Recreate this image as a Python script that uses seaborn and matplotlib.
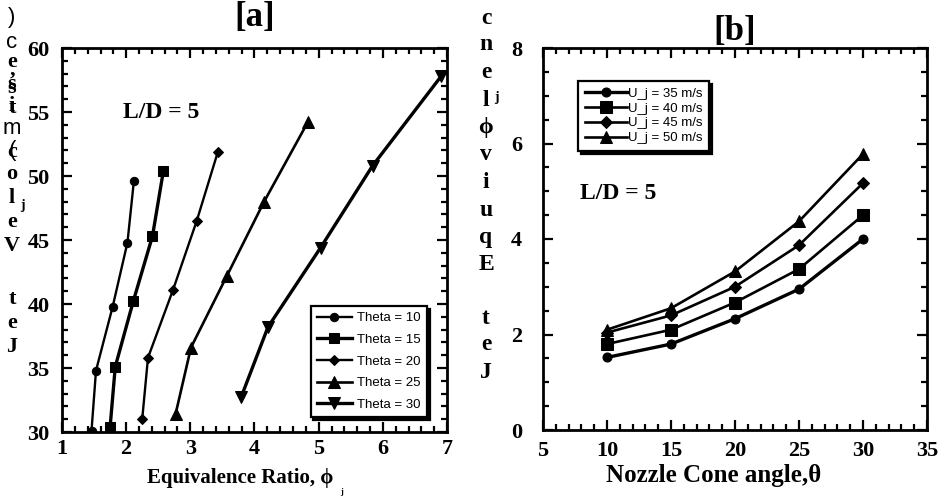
import numpy as np
import pandas as pd
import matplotlib
matplotlib.use("Agg")
import matplotlib.pyplot as plt
import seaborn as sns
from matplotlib.ticker import MultipleLocator

# ---------------- data: panel [a] ----------------
theta_labels = ["Theta = 10", "Theta = 15", "Theta = 20", "Theta = 25", "Theta = 30"]
phi_t10 = [1.46, 1.53, 1.79, 2.02, 2.12]
vel_t10 = [30.1, 34.8, 39.8, 44.8, 49.6]
phi_t15 = [1.75, 1.83, 2.11, 2.41, 2.58]
vel_t15 = [30.4, 35.1, 40.2, 45.3, 50.4]
phi_t20 = [2.25, 2.34, 2.73, 3.10, 3.43]
vel_t20 = [31.0, 35.8, 41.1, 46.5, 51.9]
phi_t25 = [2.77, 3.01, 3.57, 4.15, 4.83]
vel_t25 = [31.4, 36.6, 42.2, 48.0, 54.2]
phi_t30 = [3.79, 4.21, 5.03, 5.84, 6.91]
vel_t30 = [32.7, 38.2, 44.4, 50.8, 57.8]

# ---------------- data: panel [b] ----------------
uj_labels = ["U_j = 35 m/s", "U_j = 40 m/s", "U_j = 45 m/s", "U_j = 50 m/s"]
cone_angle = [10, 15, 20, 25, 30]
eq_u35 = [1.52, 1.80, 2.33, 2.95, 4.00]
eq_u40 = [1.80, 2.10, 2.67, 3.37, 4.50]
eq_u45 = [2.04, 2.40, 3.00, 3.87, 5.17]
eq_u50 = [2.10, 2.55, 3.32, 4.37, 5.78]

SERIF = ["Liberation Serif", "DejaVu Serif"]
SANS = ["Liberation Sans", "DejaVu Sans"]

plt.rcParams["font.family"] = SERIF

W, H = 939, 496
fig = plt.figure(figsize=(W / 100, H / 100), dpi=100)


def px_axes(x0, y0, x1, y1):
    return fig.add_axes([x0 / W, 1 - y1 / H, (x1 - x0) / W, (y1 - y0) / H])


axa = px_axes(62, 48, 447, 432)
axb = px_axes(543, 48, 927, 430)

# ---- panel a lines ----
dfa = []
for lab, xs, ys in zip(theta_labels,
                       [phi_t10, phi_t15, phi_t20, phi_t25, phi_t30],
                       [vel_t10, vel_t15, vel_t20, vel_t25, vel_t30]):
    dfa.append(pd.DataFrame({"phi": xs, "vel": ys, "series": lab}))
dfa = pd.concat(dfa, ignore_index=True)

marks_a = ["o", "s", "D", "^", "v"]
ms_a = [6.0, 7.0, 5.5, 8.0, 8.0]
lw_a = [1.7, 2.4, 1.7, 1.9, 2.4]
for lab, mk, ms, lw in zip(theta_labels, marks_a, ms_a, lw_a):
    sub = dfa[dfa["series"] == lab]
    sns.lineplot(data=sub, x="phi", y="vel", ax=axa, color="black", marker=mk,
                 markersize=ms, linewidth=lw, markeredgecolor="black",
                 sort=False, estimator=None, label=lab)

# ---- panel b lines ----
dfb = []
for lab, ys in zip(uj_labels, [eq_u35, eq_u40, eq_u45, eq_u50]):
    dfb.append(pd.DataFrame({"angle": cone_angle, "eq": ys, "series": lab}))
dfb = pd.concat(dfb, ignore_index=True)

marks_b = ["o", "s", "D", "^"]
ms_b = [6.5, 8.0, 6.0, 8.0]
lw_b = [2.4, 1.9, 1.9, 1.9]
for lab, mk, ms, lw in zip(uj_labels, marks_b, ms_b, lw_b):
    sub = dfb[dfb["series"] == lab]
    sns.lineplot(data=sub, x="angle", y="eq", ax=axb, color="black", marker=mk,
                 markersize=ms, linewidth=lw, markeredgecolor="black",
                 sort=False, estimator=None, label=lab)

# ---- axes styling ----
axa.set_xlim(1, 7)
axa.set_ylim(30, 60)
axa.xaxis.set_major_locator(MultipleLocator(1))
axa.xaxis.set_minor_locator(MultipleLocator(0.2))
axa.yaxis.set_major_locator(MultipleLocator(5))
axa.yaxis.set_minor_locator(MultipleLocator(1))

axb.set_xlim(5, 35)
axb.set_ylim(0, 8)
axb.xaxis.set_major_locator(MultipleLocator(5))
axb.xaxis.set_minor_locator(MultipleLocator(1))
axb.yaxis.set_major_locator(MultipleLocator(2))
axb.yaxis.set_minor_locator(MultipleLocator(0.5))

for ax in (axa, axb):
    for sp in ax.spines.values():
        sp.set_linewidth(2.0)
    ax.tick_params(which="both", direction="in", top=True, right=True, width=1.6)
    ax.tick_params(which="major", length=7)
    ax.tick_params(which="minor", length=4)
    ax.set_ylabel("")

axa.tick_params(axis="x", which="major", pad=5)
axa.tick_params(axis="y", which="major", pad=9)
axb.tick_params(axis="x", which="major", pad=8)
axb.tick_params(axis="y", which="major", pad=15)

for ax in (axa, axb):
    for t in ax.get_xticklabels() + ax.get_yticklabels():
        t.set_fontweight("bold")
        t.set_fontsize(16)

# ---- titles ----
axa.set_title("[a]", fontsize=25, fontweight="bold", pad=16)
axb.set_title("[b]", fontsize=25, fontweight="bold", pad=6)

# ---- x labels ----
axa.set_xlabel("Equivalence Ratio, ϕ", fontsize=15, fontweight="bold")
axa.xaxis.set_label_coords((240 - 62) / 385, -0.094)
fig.text(342 / W, 1 - 492 / H, "j", ha="center", va="center", fontsize=6,
         fontweight="bold", family=SERIF)
axb.set_xlabel("Nozzle Cone angle,θ", fontsize=18, fontweight="bold")
axb.xaxis.set_label_coords((714 - 543) / 384, -0.088)

# ---- annotations ----
axa.text(1.95, 55.0, "L/D = 5", fontsize=17, fontweight="bold", va="center", ha="left")
axb.text(7.9, 4.96, "L/D = 5", fontsize=17, fontweight="bold", va="center", ha="left")

# ---- legends ----
shadow = {"facecolor": "black", "edgecolor": "black", "alpha": 1.0}
leg_a = axa.legend(loc="lower right", bbox_to_anchor=(0.948, 0.039), borderaxespad=0,
                   frameon=True, fancybox=False, shadow=shadow, edgecolor="black",
                   framealpha=1, prop={"family": SANS, "size": 9.5},
                   handlelength=2.7, handletextpad=0.4, labelspacing=0.72,
                   borderpad=0.45)
leg_a.get_frame().set_linewidth(1.6)

leg_b = axb.legend(loc="upper left", bbox_to_anchor=(0.091, 0.914), borderaxespad=0,
                   frameon=True, fancybox=False, shadow=shadow, edgecolor="black",
                   framealpha=1, prop={"family": SANS, "size": 9.5},
                   handlelength=3.2, handletextpad=0.1, labelspacing=0.2,
                   borderpad=0.5)
leg_b.get_frame().set_linewidth(1.6)

# ---- stacked (broken) y-axis labels, as in the reference ----
def stack(chars, ys, x, fams, size):
    for c, y, fam in zip(chars, ys, fams):
        fig.text(x / W, 1 - y / H, c, ha="center", va="center", fontsize=size,
                 family=SERIF if fam == "b" else SANS,
                 fontweight="bold" if fam == "b" else "normal")

left_chars = [")", "c", "e", ",", "s", "s", "t", "i", "m", "(", "c", "o", "l", "e", "V", "t", "e", "J"]
left_ys = [18, 42, 62, 70, 84, 88, 108, 106, 128, 150, 152, 174, 198, 222, 246, 299, 323, 347]
left_fam = ["s", "s", "b", "b", "b", "b", "b", "b", "s", "s", "b", "b", "b", "b", "b", "b", "b", "b"]
stack(left_chars, left_ys, 12, left_fam, 16)
fig.text(22 / W, 1 - 206 / H, "j", ha="center", va="center", fontsize=10,
         fontweight="bold", family=SERIF)

right_chars = ["e", "c", "n", "e", "l", "ϕ", "v", "i", "u", "q", "E", "t", "e", "J"]
right_ys = [-6, 18, 45, 72, 100, 127, 155, 182, 210, 237, 264, 318, 345, 372]
stack(right_chars, right_ys, 486, ["b"] * len(right_chars), 17)
fig.text(496 / W, 1 - 98 / H, "j", ha="center", va="center", fontsize=10,
         fontweight="bold", family=SERIF)

fig.savefig("out.png", dpi=100)
